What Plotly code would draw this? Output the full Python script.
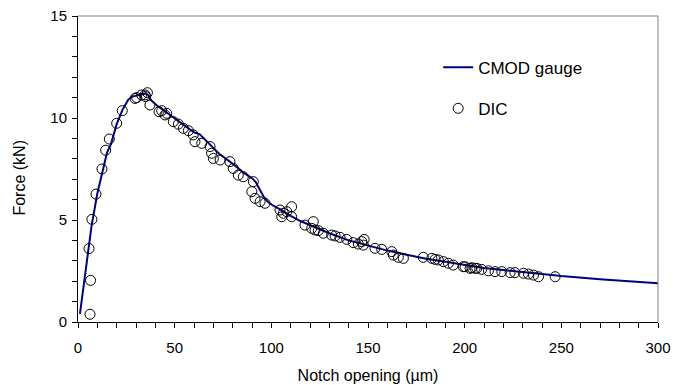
import plotly.graph_objects as go

# CMOD gauge curve
cmod_x = [1, 3, 5, 7, 10, 13, 15, 17, 20, 23, 26, 28, 30, 33, 35, 36, 38, 41, 44, 47,
          50, 55, 60, 63, 68, 73, 78, 82, 86, 90, 92, 94, 96, 98, 101, 105, 110, 115,
          120, 125, 130, 140, 150, 160, 170, 180, 190, 200, 210, 220, 235, 250, 270, 300]
cmod_y = [0.4, 1.9, 3.4, 4.7, 6.3, 7.6, 8.3, 8.7, 9.7, 10.4, 10.9, 11.05, 11.1, 11.15,
          11.2, 11.15, 10.85, 10.6, 10.4, 10.2, 10.0, 9.65, 9.3, 9.2, 8.75, 8.25, 7.9,
          7.6, 7.3, 7.05, 6.85, 6.5, 6.15, 5.9, 5.7, 5.5, 5.2, 4.95, 4.75, 4.55, 4.35,
          4.0, 3.75, 3.5, 3.3, 3.1, 2.95, 2.8, 2.65, 2.55, 2.4, 2.25, 2.1, 1.9]

# DIC measurements
dic_x = [6.2, 6.5, 5.7, 7.2, 9.3, 12.4, 14.3, 16.2, 20.0, 22.9, 29.5, 30.4, 32.9, 34.7,
         35.9, 35.0, 37.2, 41.9, 43.3, 45.9, 45.0, 49.3, 51.9, 54.5, 57.1, 59.6, 60.5,
         64.0, 68.3, 69.1, 70.0, 73.5, 78.6, 80.3, 82.9, 85.5, 90.7, 89.9, 91.6, 94.2,
         96.7, 104.5, 106.2, 105.4, 108.0, 110.5, 110.5, 117.4, 121.7, 120.9, 122.6,
         124.3, 126.9, 131.2, 133.0, 135.5, 139.0, 142.4, 145.0, 146.8, 148.0, 147.6,
         153.6, 157.1, 162.3, 163.1, 165.7, 168.3, 178.6, 183.0, 184.7, 186.4, 189.0,
         191.6, 194.1, 199.3, 200.2, 202.8, 203.7, 205.4, 206.3, 208.8, 212.3, 215.7,
         219.2, 223.5, 226.0, 230.4, 233.0, 235.6, 238.2, 246.8]
dic_y = [0.38, 2.04, 3.6, 5.03, 6.27, 7.5, 8.42, 8.97, 9.74, 10.36, 10.96, 11.0, 11.13,
         11.13, 11.24, 11.05, 10.64, 10.31, 10.36, 10.23, 10.15, 9.82, 9.7, 9.49, 9.38,
         9.17, 8.84, 8.76, 8.6, 8.27, 8.02, 7.94, 7.86, 7.53, 7.2, 7.12, 6.88, 6.39, 6.06,
         5.9, 5.82, 5.49, 5.33, 5.16, 5.41, 5.65, 5.16, 4.75, 4.92, 4.59, 4.51, 4.48,
         4.35, 4.26, 4.22, 4.15, 4.05, 3.89, 3.82, 3.94, 4.05, 3.77, 3.61, 3.56, 3.45,
         3.28, 3.17, 3.12, 3.17, 3.12, 3.07, 3.04, 2.96, 2.88, 2.79, 2.71, 2.71, 2.63,
         2.66, 2.63, 2.63, 2.58, 2.51, 2.47, 2.47, 2.42, 2.42, 2.39, 2.35, 2.3, 2.22, 2.22]

FONT = "Liberation Sans, Arial, sans-serif"

fig = go.Figure()
fig.add_trace(go.Scatter(x=cmod_x, y=cmod_y, mode="lines", name="CMOD gauge",
                         line=dict(color="#000080", width=2), legendgroup="a"))
fig.add_trace(go.Scatter(x=dic_x, y=dic_y, mode="markers", name="DIC",
                         marker=dict(symbol="circle-open", size=10, color="black",
                                     line=dict(width=1, color="black")),
                         legendgroup="b"))

axis_common = dict(showgrid=False, zeroline=False, showline=True, linecolor="black",
                   linewidth=1, ticks="outside", ticklen=5, tickcolor="black",
                   automargin=False,
                   tickfont=dict(family=FONT, size=15, color="black"))

fig.update_layout(
    width=674, height=385,
    margin=dict(l=78, r=16, t=16, b=63),
    paper_bgcolor="white", plot_bgcolor="white",
    font=dict(family=FONT, size=15, color="black"),
    xaxis=dict(range=[0, 300], dtick=50, ticklabelstandoff=7,
               minor=dict(dtick=10, ticks="outside", ticklen=5, tickcolor="black"),
               title=dict(text="Notch opening (µm)", font=dict(size=16), standoff=14),
               **axis_common),
    yaxis=dict(range=[0, 15], dtick=5, ticklabelstandoff=2,
               minor=dict(dtick=1, ticks="outside", ticklen=5, tickcolor="black"),
               **axis_common),
    legend=dict(x=0.621, y=0.89, xanchor="left", yanchor="top",
                bgcolor="rgba(0,0,0,0)", font=dict(family=FONT, size=17),
                tracegroupgap=16),
    annotations=[
        dict(text="Force (kN)", xref="paper", yref="paper",
             x=-78 / 580 + 20 / 580, y=0.472, xanchor="center", yanchor="middle",
             textangle=-90, showarrow=False, font=dict(family=FONT, size=16)),
    ],
    shapes=[
        dict(type="line", xref="paper", yref="paper", x0=0, x1=1, y0=1, y1=1,
             line=dict(color="#808080", width=1)),
        dict(type="line", xref="paper", yref="paper", x0=1, x1=1, y0=0, y1=1,
             line=dict(color="#808080", width=1)),
    ],
)

fig.write_html("out.html")
